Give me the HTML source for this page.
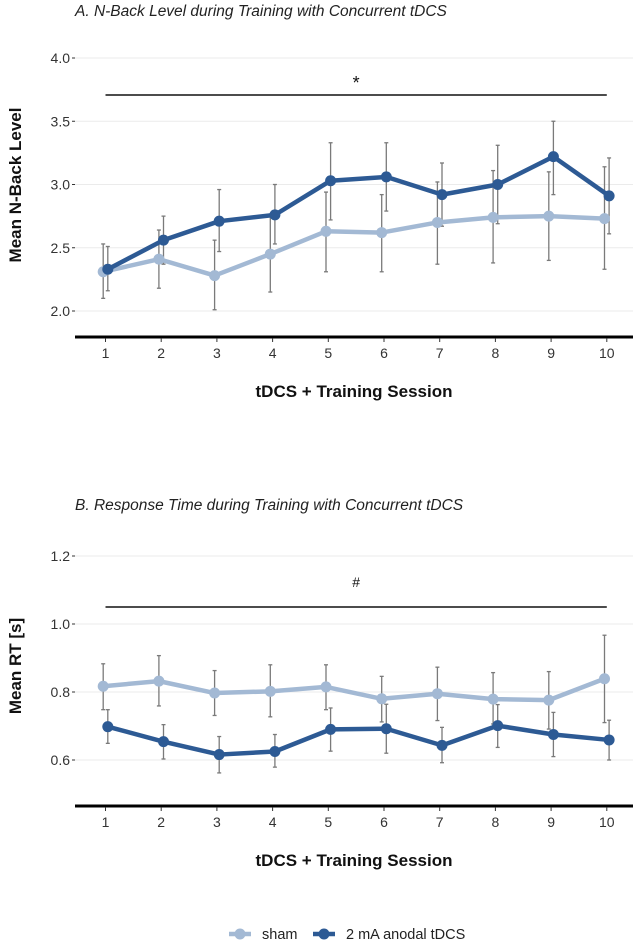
<!DOCTYPE html>
<html><head><meta charset="utf-8"><style>
body{margin:0;background:#fff;}
svg{display:block;font-family:"Liberation Sans",sans-serif;}
</style></head><body>
<svg id="chart" width="633" height="943" viewBox="0 0 633 943"></svg>
<script>
const sessions=[1,2,3,4,5,6,7,8,9,10];
const aTicks=[2.0,2.5,3.0,3.5,4.0];
const aTickLabels=["2.0","2.5","3.0","3.5","4.0"];
const aSham=[2.31,2.41,2.28,2.45,2.63,2.62,2.70,2.74,2.75,2.73];
const aShamHi=[2.53,2.64,2.56,2.75,2.94,2.92,3.02,3.11,3.10,3.14];
const aShamLo=[2.10,2.18,2.01,2.15,2.31,2.31,2.37,2.38,2.40,2.33];
const aTdcs=[2.33,2.56,2.71,2.76,3.03,3.06,2.92,3.00,3.22,2.91];
const aTdcsHi=[2.51,2.75,2.96,3.00,3.33,3.33,3.17,3.31,3.50,3.21];
const aTdcsLo=[2.16,2.37,2.47,2.53,2.72,2.79,2.67,2.69,2.92,2.61];
const bTicks=[0.6,0.8,1.0,1.2];
const bTickLabels=["0.6","0.8","1.0","1.2"];
const bSham=[0.817,0.832,0.797,0.802,0.815,0.780,0.795,0.779,0.776,0.839];
const bShamHi=[0.883,0.907,0.863,0.880,0.880,0.846,0.873,0.857,0.860,0.967];
const bShamLo=[0.748,0.759,0.731,0.727,0.748,0.712,0.716,0.706,0.691,0.710];
const bTdcs=[0.698,0.654,0.616,0.625,0.690,0.692,0.643,0.701,0.675,0.659];
const bTdcsHi=[0.748,0.704,0.669,0.675,0.753,0.764,0.696,0.763,0.740,0.717];
const bTdcsLo=[0.649,0.603,0.562,0.579,0.626,0.620,0.592,0.637,0.610,0.600];

const NS="http://www.w3.org/2000/svg";
const svg=document.getElementById('chart');
const SHAM="#a3b9d4", TDCS="#2d5a94";
function el(t,a,p){const e=document.createElementNS(NS,t);for(const k in a)e.setAttribute(k,a[k]);(p||svg).appendChild(e);return e;}
const xScale=s=>105.5+55.7*(s-1);

function panel(cfg){
  const g=el('g',{});
  
  
  const y=v=>cfg.y0+(v-cfg.v0)*cfg.k;
  const t=el('text',{x:75,y:cfg.titleY,'font-size':15.5,'font-style':'italic',fill:'#222'},g);
  t.textContent=cfg.title;
  
  
  cfg.ticks.forEach((v,i)=>{
    const gl=el('line',{x1:75,x2:633,y1:y(v),y2:y(v),stroke:'#ebebeb','stroke-width':1},g);
    
    
    el('line',{x1:72,x2:75,y1:y(v),y2:y(v),stroke:'#333','stroke-width':1},g);
    const tl=el('text',{x:70,y:y(v)+5,'font-size':14,'text-anchor':'end',fill:'#333'},g);
    tl.textContent=cfg.tickLabels[i];
    
    
  });
  const ax=el('line',{x1:75,x2:633,y1:cfg.axisY,y2:cfg.axisY,stroke:'#000','stroke-width':3},g);
  
  
  sessions.forEach(s=>{
    el('line',{x1:xScale(s),x2:xScale(s),y1:cfg.axisY+1,y2:cfg.axisY+5,stroke:'#333','stroke-width':1},g);
    const xl=el('text',{x:xScale(s),y:cfg.axisY+21,'font-size':14,'text-anchor':'middle',fill:'#333'},g);
    xl.textContent=String(s);
    
    
  });
  const xt=el('text',{x:354,y:cfg.axisY+60,'font-size':17,'font-weight':'bold','text-anchor':'middle',fill:'#111'},g);
  xt.textContent='tDCS + Training Session';
  
  
  const yt=el('text',{x:0,y:0,'font-size':17,'font-weight':'bold','text-anchor':'middle',fill:'#111',transform:`translate(21,${cfg.ytY}) rotate(-90)`},g);
  yt.textContent=cfg.yTitle;
  
  
  const sl=el('line',{x1:xScale(1),x2:xScale(10),y1:cfg.sigY,y2:cfg.sigY,stroke:'#111','stroke-width':1.6},g);
  
  
  const st=el('text',{x:xScale(5.5),y:cfg.sigY-cfg.sigOff,'font-size':cfg.sigSize,'text-anchor':'middle',fill:'#111'},g);
  st.textContent=cfg.sig;
  
  
  const series=[[cfg.sham,cfg.shamHi,cfg.shamLo,SHAM,-2.3,'sham'],[cfg.tdcs,cfg.tdcsHi,cfg.tdcsLo,TDCS,2.3,'tdcs']];
  series.forEach(([vals,hi,lo,col,dx,nm])=>{
    vals.forEach((v,i)=>{
      const x=xScale(sessions[i])+dx;
      const eb=el('g',{stroke:'#7a7a7a','stroke-width':1.3},g);
      
      
      el('line',{x1:x,x2:x,y1:y(hi[i]),y2:y(lo[i])},eb);
      el('line',{x1:x-2,x2:x+2,y1:y(hi[i]),y2:y(hi[i])},eb);
      el('line',{x1:x-2,x2:x+2,y1:y(lo[i]),y2:y(lo[i])},eb);
    });
  });
  series.forEach(([vals,hi,lo,col,dx,nm])=>{
    const pts=vals.map((v,i)=>`${xScale(sessions[i])+dx},${y(v)}`).join(' ');
    const pl=el('polyline',{points:pts,fill:'none',stroke:col,'stroke-width':4.5,'stroke-linejoin':'round'},g);
    
    
    vals.forEach((v,i)=>{
      const c=el('circle',{cx:xScale(sessions[i])+dx,cy:y(v),r:5.5,fill:col},g);
      
      
    });
  });
}
panel({name:'panel-a',title:'A. N-Back Level during Training with Concurrent tDCS',titleY:16,
  y0:311,v0:2.0,k:-126.5,ticks:aTicks,tickLabels:aTickLabels,axisY:337,yTitle:'Mean N-Back Level',ytY:185,
  sigY:95,sig:'*',sigOff:6,sigSize:18,sham:aSham,shamHi:aShamHi,shamLo:aShamLo,tdcs:aTdcs,tdcsHi:aTdcsHi,tdcsLo:aTdcsLo});
panel({name:'panel-b',title:'B. Response Time during Training with Concurrent tDCS',titleY:510,
  y0:692,v0:0.8,k:-340,ticks:bTicks,tickLabels:bTickLabels,axisY:806,yTitle:'Mean RT [s]',ytY:666,
  sigY:607,sig:'#',sigOff:20,sigSize:14,sham:bSham,shamHi:bShamHi,shamLo:bShamLo,tdcs:bTdcs,tdcsHi:bTdcsHi,tdcsLo:bTdcsLo});

const lg=el('g',{});


[[SHAM,'sham',229],[TDCS,'2 mA anodal tDCS',313]].forEach(([c,l,x])=>{
  const e=el('g',{},lg);
  
  
  el('line',{x1:x,x2:x+22,y1:934,y2:934,stroke:c,'stroke-width':4.5},e);
  el('circle',{cx:x+11,cy:934,r:5.5,fill:c},e);
  const t=el('text',{x:x+33,y:939,'font-size':14.5,fill:'#222'},e);
  t.textContent=l;
});
</script>
</body></html>
